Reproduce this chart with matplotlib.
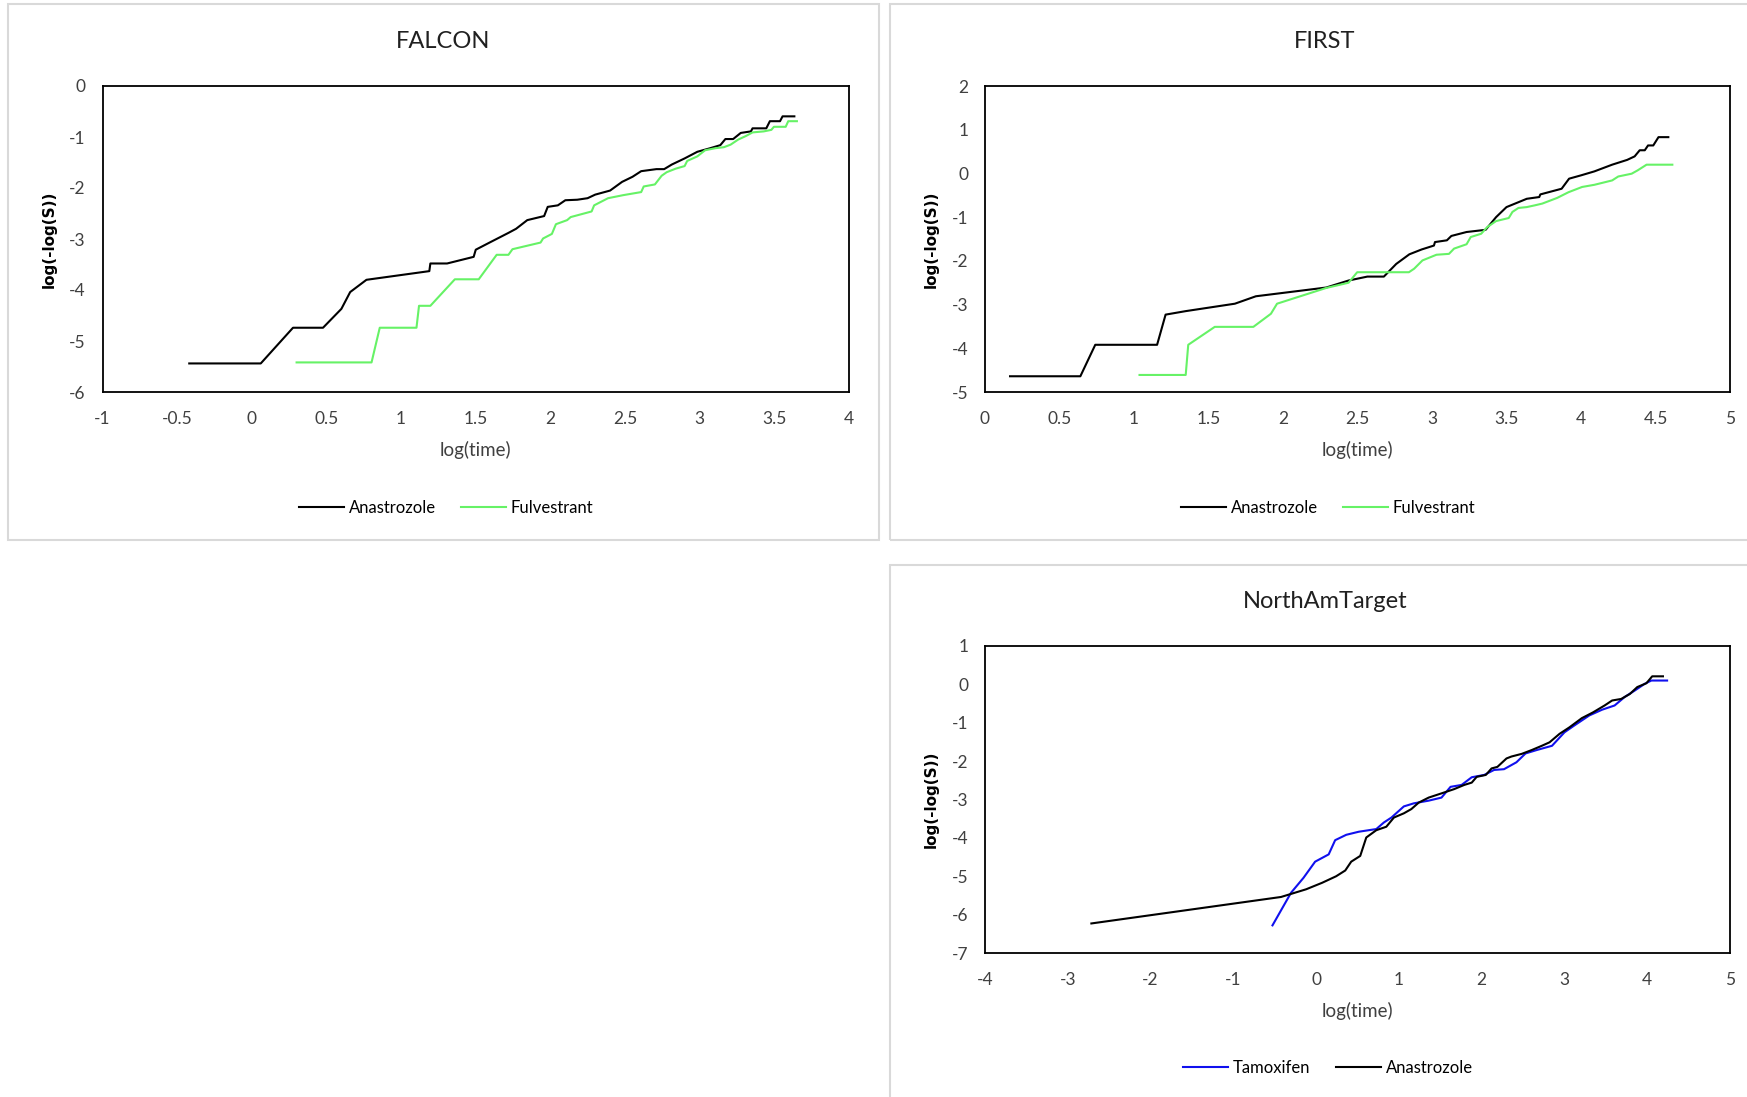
import matplotlib
matplotlib.use('Agg')
import matplotlib.pyplot as plt
from matplotlib.patches import Rectangle

plt.rcParams['font.family'] = ['Lato', 'DejaVu Sans']
plt.rcParams['axes.unicode_minus'] = False

# FALCON
falcon_ana_x = [-0.419, 0.060, 0.276, 0.477, 0.60, 0.659, 0.768, 1.189, 1.196, 1.308, 1.486, 1.50, 1.599, 1.719,
                1.77, 1.845, 1.958, 1.982, 2.05, 2.10, 2.18, 2.249, 2.30, 2.40, 2.48, 2.55, 2.608, 2.71, 2.762,
                2.813, 2.899, 2.984, 3.07, 3.138, 3.172, 3.224, 3.275, 3.343, 3.354, 3.446, 3.47, 3.538, 3.555, 3.634]
falcon_ana_y = [-5.44, -5.44, -4.74, -4.74, -4.37, -4.04, -3.80, -3.63, -3.48, -3.48, -3.35, -3.21, -3.06, -2.88,
                -2.80, -2.63, -2.55, -2.37, -2.34, -2.24, -2.23, -2.20, -2.13, -2.05, -1.88, -1.78, -1.67, -1.63, -1.63,
                -1.54, -1.42, -1.29, -1.22, -1.16, -1.04, -1.04, -0.92, -0.89, -0.83, -0.83, -0.69, -0.69, -0.595, -0.595]
falcon_ful_x = [0.30, 0.802, 0.857, 1.103, 1.12, 1.196, 1.36, 1.52, 1.64, 1.719, 1.746, 1.934, 1.951, 2.01, 2.037,
                2.112, 2.136, 2.276, 2.293, 2.386, 2.488, 2.608, 2.625, 2.70, 2.745, 2.779, 2.84, 2.899, 2.916, 2.984,
                3.036, 3.104, 3.162, 3.207, 3.258, 3.31, 3.354, 3.429, 3.48, 3.497, 3.576, 3.593, 3.651]
falcon_ful_y = [-5.42, -5.42, -4.74, -4.74, -4.31, -4.31, -3.79, -3.79, -3.31, -3.31, -3.20, -3.07, -2.99, -2.90,
                -2.71, -2.63, -2.57, -2.46, -2.34, -2.20, -2.14, -2.08, -1.97, -1.93, -1.76, -1.69, -1.62, -1.57, -1.47,
                -1.38, -1.26, -1.22, -1.20, -1.15, -1.05, -0.98, -0.91, -0.89, -0.86, -0.80, -0.80, -0.69, -0.69]

# FIRST
first_ana_x = [0.168, 0.64, 0.74, 1.155, 1.212, 1.347, 1.677, 1.818, 2.29, 2.44, 2.566, 2.677, 2.76, 2.848, 2.93,
               3.013, 3.02, 3.10, 3.13, 3.232, 3.36, 3.384, 3.43, 3.50, 3.586, 3.636, 3.72, 3.727, 3.87, 3.92, 4.00,
               4.09, 4.209, 4.31, 4.36, 4.394, 4.428, 4.45, 4.485, 4.52, 4.586]
first_ana_y = [-4.64, -4.64, -3.92, -3.92, -3.23, -3.15, -2.98, -2.81, -2.61, -2.45, -2.36, -2.36, -2.07, -1.85, -1.74,
               -1.65, -1.57, -1.53, -1.43, -1.34, -1.29, -1.19, -1.00, -0.77, -0.65, -0.58, -0.54, -0.48, -0.35, -0.12,
               -0.044, 0.047, 0.20, 0.31, 0.39, 0.53, 0.53, 0.64, 0.64, 0.83, 0.83]
first_ful_x = [1.037, 1.347, 1.364, 1.542, 1.801, 1.919, 1.96, 2.29, 2.44, 2.498, 2.845, 2.88, 2.936, 3.03, 3.114,
               3.148, 3.232, 3.26, 3.33, 3.37, 3.43, 3.515, 3.54, 3.58, 3.636, 3.69, 3.74, 3.84, 3.916, 4.007, 4.09,
               4.209, 4.25, 4.34, 4.38, 4.44, 4.613]
first_ful_y = [-4.61, -4.61, -3.92, -3.51, -3.51, -3.21, -2.98, -2.62, -2.50, -2.26, -2.26, -2.18, -1.99, -1.86, -1.84,
               -1.72, -1.62, -1.455, -1.38, -1.23, -1.09, -1.02, -0.88, -0.79, -0.77, -0.73, -0.69, -0.56, -0.43, -0.31,
               -0.26, -0.16, -0.07, -0.006, 0.07, 0.20, 0.20]

# NorthAmTarget
nat_ana_x = [-2.715, -0.424, -0.121, 0.073, 0.242, 0.352, 0.424, 0.533, 0.606, 0.727, 0.848, 0.94, 1.06, 1.15, 1.24,
             1.36, 1.515, 1.667, 1.79, 1.88, 1.94, 2.05, 2.12, 2.19, 2.30, 2.36, 2.485, 2.606, 2.727, 2.82, 2.94,
             3.06, 3.21, 3.345, 3.485, 3.576, 3.685, 3.79, 3.88, 3.99, 4.06, 4.19]
nat_ana_y = [-6.23, -5.54, -5.34, -5.17, -5.0, -4.85, -4.62, -4.47, -3.99, -3.80, -3.71, -3.47, -3.36, -3.25, -3.08,
             -2.95, -2.84, -2.73, -2.62, -2.56, -2.41, -2.36, -2.19, -2.15, -1.93, -1.88, -1.81, -1.71, -1.60, -1.51,
             -1.29, -1.12, -0.88, -0.73, -0.55, -0.42, -0.38, -0.25, -0.07, 0.03, 0.21, 0.21]
nat_tam_x = [-0.527, -0.303, -0.152, -0.012, 0.152, 0.23, 0.364, 0.515, 0.727, 0.818, 0.91, 1.06, 1.18, 1.36, 1.515,
             1.624, 1.758, 1.88, 2.03, 2.15, 2.27, 2.42, 2.53, 2.667, 2.85, 3.0, 3.12, 3.30, 3.455, 3.606, 3.727,
             3.85, 3.97, 4.05, 4.24]
nat_tam_y = [-6.28, -5.43, -5.04, -4.62, -4.43, -4.06, -3.92, -3.84, -3.77, -3.60, -3.47, -3.18, -3.10, -3.03, -2.95,
             -2.67, -2.62, -2.42, -2.36, -2.23, -2.21, -2.03, -1.80, -1.71, -1.60, -1.25, -1.07, -0.81, -0.66, -0.55,
             -0.33, -0.16, 0.015, 0.10, 0.10]

GREEN = '#66f266'
BLUE = '#1010ee'
W, H = 1747, 1097

fig = plt.figure(figsize=(W / 100, H / 100), dpi=100)


def px_axes(x0, x1, y0, y1):
    # pixel box (top-left origin) -> figure fraction
    return fig.add_axes([x0 / W, 1 - y1 / H, (x1 - x0) / W, (y1 - y0) / H])


def panel(x0, y0, x1, y1):
    fig.patches.append(Rectangle((x0 / W, 1 - y1 / H), (x1 - x0) / W, (y1 - y0) / H,
                                 transform=fig.transFigure, fill=False, edgecolor='#d9d9d9', linewidth=1.5))


def style(ax, xlim, ylim, step):
    ax.set_xlim(*xlim)
    ax.set_ylim(*ylim)
    ax.set_yticks(range(ylim[0], ylim[1] + 1))
    xt = []
    v = xlim[0]
    while v <= xlim[1] + 1e-9:
        xt.append(v)
        v += step
    ax.set_xticks(xt)
    ax.set_xticklabels(['%g' % t for t in xt])
    ax.tick_params(length=0, labelsize=12.5, pad=12, colors='#404040')
    ax.tick_params(axis='x', pad=14)
    for s in ax.spines.values():
        s.set_linewidth(1.3)
        s.set_color('black')
    ax.set_xlabel('log(time)', fontsize=13.5, color='#404040', labelpad=10)
    ax.set_ylabel('log(-log(S))', fontsize=11, family='DejaVu Sans', fontweight='bold', labelpad=9)


# panels
panel(8, 4, 879, 540)
panel(890, 4, 1761, 540)
panel(890, 565, 1761, 1101)

# FALCON
ax1 = px_axes(102.5, 849, 86, 392)
ax1.plot(falcon_ana_x, falcon_ana_y, color='black', lw=1.5, label='Anastrozole')
ax1.plot(falcon_ful_x, falcon_ful_y, color=GREEN, lw=1.5, label='Fulvestrant')
style(ax1, (-1, 4), (-6, 0), 0.5)
fig.text(443 / W, 1 - 41 / H, 'FALCON', ha='center', va='center', fontsize=17, color='#202020')
ax1.legend(loc='center', bbox_to_anchor=(446 / W, 1 - 508 / H), bbox_transform=fig.transFigure, ncol=2,
           frameon=False, fontsize=12, handlelength=2.7, handletextpad=0.3, columnspacing=1.5)

# FIRST
ax2 = px_axes(985, 1730, 86, 392)
ax2.plot(first_ana_x, first_ana_y, color='black', lw=1.5, label='Anastrozole')
ax2.plot(first_ful_x, first_ful_y, color=GREEN, lw=1.5, label='Fulvestrant')
style(ax2, (0, 5), (-5, 2), 0.5)
fig.text(1325 / W, 1 - 41 / H, 'FIRST', ha='center', va='center', fontsize=17, color='#202020')
ax2.legend(loc='center', bbox_to_anchor=(1328 / W, 1 - 508 / H), bbox_transform=fig.transFigure, ncol=2,
           frameon=False, fontsize=12, handlelength=2.7, handletextpad=0.3, columnspacing=1.5)

# NorthAmTarget
ax3 = px_axes(985, 1730, 646, 953)
ax3.plot(nat_tam_x, nat_tam_y, color=BLUE, lw=1.5, label='Tamoxifen')
ax3.plot(nat_ana_x, nat_ana_y, color='black', lw=1.5, label='Anastrozole')
style(ax3, (-4, 5), (-7, 1), 1)
fig.text(1325 / W, 1 - 602 / H, 'NorthAmTarget', ha='center', va='center', fontsize=17, color='#202020')
ax3.legend(loc='center', bbox_to_anchor=(1328 / W, 1 - 1068 / H), bbox_transform=fig.transFigure, ncol=2,
           frameon=False, fontsize=12, handlelength=2.7, handletextpad=0.3, columnspacing=1.5)

fig.savefig('out.png', dpi=100)
